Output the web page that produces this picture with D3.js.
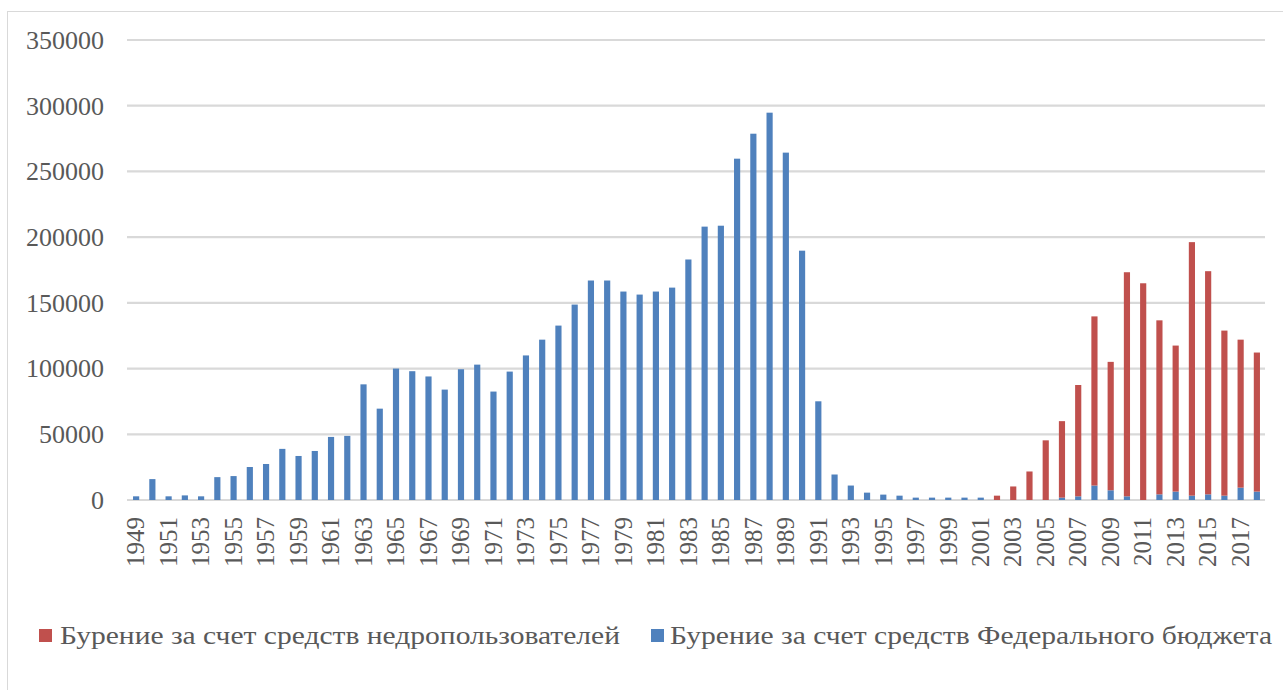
<!DOCTYPE html>
<html>
<head>
<meta charset="utf-8">
<script src="https://cdn.jsdelivr.net/npm/d3@7"></script>
<style>
  body { margin: 0; background: #fff; }
  svg { display: block; }
</style>
</head>
<body>
<svg id="chart" width="1283" height="690"></svg>
<script>
const years = d3.range(1949, 2019).map(String);
const federal = [
  2800, 15900, 2800, 3500, 2800, 17400, 18200, 25100, 27400, 38900,
  33500, 37300, 48000, 48800, 88000, 69500, 100000, 98000, 94000, 84000,
  99500, 103000, 82500, 97700, 110000, 122000, 132700, 148700, 167000, 167000,
  158600, 156300, 158600, 161600, 183000, 208000, 208700, 259700, 278700, 294700,
  264300, 189700, 75100, 19400, 11000, 5600, 4100, 3300, 1800, 1800,
  1800, 1800, 1800, 0, 0, 0, 0, 1800, 2800, 11000,
  7400, 2800, 0, 4300, 6400, 3300, 4300, 3300, 9400, 6400
];
const subsoil = [
  0, 0, 0, 0, 0, 0, 0, 0, 0, 0,
  0, 0, 0, 0, 0, 0, 0, 0, 0, 0,
  0, 0, 0, 0, 0, 0, 0, 0, 0, 0,
  0, 0, 0, 0, 0, 0, 0, 0, 0, 0,
  0, 0, 0, 0, 0, 0, 0, 0, 0, 0,
  0, 0, 0, 3300, 10300, 21700, 45400, 58200, 84700, 128700,
  97700, 170500, 164900, 132400, 111100, 192900, 169800, 125600, 112600, 105800
];
const yTicks = [0, 50000, 100000, 150000, 200000, 250000, 300000, 350000];
const seriesNames = ["Бурение за счет средств недропользователей", "Бурение за счет средств Федерального бюджета"];
const colors = { subsoil: "#C0504D", federal: "#4F81BD" };

const svg = d3.select("#chart");
const textColor = "#595959";
const gridColor = "#D9D9D9";
const serif = "'Liberation Serif', 'Times New Roman', serif";

// outer border
svg.append("rect").attr("x", 7.5).attr("y", 11.5).attr("width", 1300).attr("height", 700)
  .attr("fill", "none").attr("stroke", gridColor).attr("stroke-width", 1);

const x = d3.scaleBand().domain(years).range([128, 1265]).paddingInner(0.62).paddingOuter(0.31);
const y = d3.scaleLinear().domain([0, 350000]).range([500, 40]);

// gridlines
svg.append("g").selectAll("line").data(yTicks).join("line")
  .attr("x1", 127).attr("x2", 1265)
  .attr("y1", d => y(d)).attr("y2", d => y(d))
  .attr("stroke", gridColor).attr("stroke-width", 2.2);

// y axis labels
const yAxis = d3.axisLeft(y).tickValues(yTicks).tickSize(0).tickPadding(0).tickFormat(d3.format("d"));
const gy = svg.append("g").attr("transform", "translate(104,0)").call(yAxis);
gy.select(".domain").remove();
gy.selectAll("text").attr("fill", textColor)
  .style("font-family", serif).style("font-size", "26px");

// stacked data
const rows = years.map((yr, i) => ({ year: yr, federal: federal[i], subsoil: subsoil[i] }));
const stack = d3.stack().keys(["federal", "subsoil"]);
const layers = stack(rows);

svg.append("g").selectAll("g").data(layers).join("g")
  .attr("fill", d => colors[d.key])
  .selectAll("rect").data(d => d).join("rect")
  .attr("x", d => x(d.data.year))
  .attr("width", x.bandwidth())
  .attr("y", d => y(d[1]))
  .attr("height", d => Math.max(0, y(d[0]) - y(d[1])));

// x axis labels
const xAxis = d3.axisBottom(x).tickValues(years.filter((d, i) => i % 2 === 0)).tickSize(0).tickPadding(0);
const gx = svg.append("g").attr("transform", "translate(0,500)").call(xAxis);
gx.select(".domain").remove();
gx.selectAll("text")
  .attr("fill", textColor)
  .style("font-family", serif).style("font-size", "25px")
  .attr("transform", "rotate(-90)")
  .attr("text-anchor", "end")
  .attr("x", -17).attr("y", 0).attr("dy", "0.33em");

// legend
const legend = svg.append("g").style("font-family", serif);
const legItems = [
  { name: seriesNames[0], color: colors.subsoil, sx: 39, tx: 60, len: 560 },
  { name: seriesNames[1], color: colors.federal, sx: 651, tx: 670, len: 602 }
];
legItems.forEach(it => {
  legend.append("rect").attr("x", it.sx).attr("y", 629).attr("width", 13).attr("height", 13).attr("fill", it.color);
  legend.append("text").attr("x", it.tx).attr("y", 644).attr("fill", textColor)
    .style("font-size", "26px").attr("textLength", it.len).attr("lengthAdjust", "spacingAndGlyphs")
    .text(it.name);
});
</script>
</body>
</html>
